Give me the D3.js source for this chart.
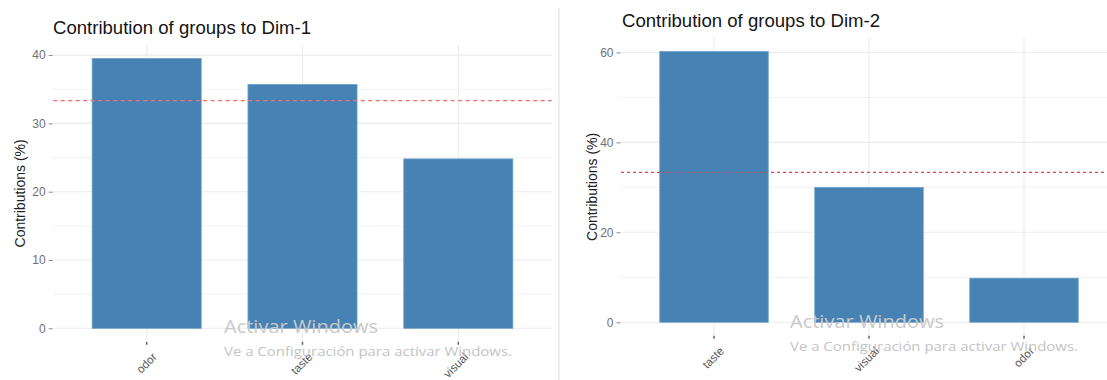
<!DOCTYPE html>
<html>
<head>
<meta charset="utf-8">
<script src="https://cdn.jsdelivr.net/npm/d3@7"></script>
<style>
  html, body { margin: 0; padding: 0; background: #fff; }
  svg { display: block; font-family: "Liberation Sans", Arial, sans-serif; }
</style>
</head>
<body>
<svg id="chart" width="1107" height="380"></svg>
<script>
// ---- data ----
const dim1Categories = ["odor", "taste", "visual"];
const dim1Values = [39.5, 35.7, 24.8];
const dim1Ticks = [0, 10, 20, 30, 40];
const dim1MinorTicks = [5, 15, 25, 35];
const dim1Title = "Contribution of groups to Dim-1";

const dim2Categories = ["taste", "visual", "odor"];
const dim2Values = [60.2, 30.0, 9.8];
const dim2Ticks = [0, 20, 40, 60];
const dim2MinorTicks = [10, 30, 50];
const dim2Title = "Contribution of groups to Dim-2";

const yAxisTitle = "Contributions (%)";
const expectedContribution = 100 / 3;
const watermarkLine1 = "Activar Windows";
const watermarkLine2 = "Ve a Configuración para activar Windows.";

const svg = d3.select("#chart");

function drawPanel(opt) {
  const g = svg.append("g");
  const ymax = d3.max(opt.values);
  const x = d3.scaleBand().domain(opt.categories)
    .range([opt.left, opt.right]).paddingInner(0.3).paddingOuter(0.25);
  const y = d3.scaleLinear().domain([-0.05 * ymax, 1.05 * ymax])
    .range([opt.bottom, opt.top]);

  // minor grid
  g.selectAll(".minor").data(opt.minor).join("line")
    .attr("x1", opt.left).attr("x2", opt.right)
    .attr("y1", d => y(d)).attr("y2", d => y(d))
    .attr("stroke", "#f2f2f2").attr("stroke-width", 1);
  // major grid
  g.selectAll(".major").data(opt.ticks).join("line")
    .attr("x1", opt.left).attr("x2", opt.right)
    .attr("y1", d => y(d)).attr("y2", d => y(d))
    .attr("stroke", "#ebebeb").attr("stroke-width", 1.1);
  g.selectAll(".vgrid").data(opt.categories).join("line")
    .attr("x1", d => x(d) + x.bandwidth() / 2).attr("x2", d => x(d) + x.bandwidth() / 2)
    .attr("y1", opt.top).attr("y2", opt.bottom)
    .attr("stroke", "#ebebeb").attr("stroke-width", 1.1);

  // bars
  g.selectAll(".bar").data(opt.categories).join("rect")
    .attr("x", d => x(d))
    .attr("width", x.bandwidth())
    .attr("y", (d, i) => y(opt.values[i]))
    .attr("height", (d, i) => y(0) - y(opt.values[i]))
    .attr("fill", "#4682b4")
    .attr("stroke", "#6f9fc8").attr("stroke-width", 0.8);

  // dashed expected line
  g.append("line")
    .attr("x1", opt.left).attr("x2", opt.right)
    .attr("y1", y(expectedContribution)).attr("y2", y(expectedContribution))
    .attr("stroke", opt.dashColor).attr("stroke-width", 1.4)
    .attr("stroke-dasharray", opt.dash);

  // y axis via d3
  const yAxis = d3.axisLeft(y).tickValues(opt.ticks).tickSize(4).tickPadding(3).tickFormat(d3.format("d"));
  const ya = g.append("g").attr("transform", `translate(${opt.left - 0.5},0)`).call(yAxis);
  ya.select(".domain").remove();
  ya.selectAll(".tick line").attr("stroke", "#888");
  ya.selectAll("text").attr("fill", "#707070").attr("font-size", 12)
    .attr("font-family", "Liberation Sans, Arial, sans-serif");

  // x axis via d3
  const xAxis = d3.axisBottom(x).tickSize(3).tickPadding(2);
  const xa = g.append("g").attr("transform", `translate(0,${opt.bottom})`).call(xAxis);
  xa.select(".domain").remove();
  xa.selectAll(".tick line").attr("stroke", "#666").attr("stroke-width", 1.5);
  xa.selectAll("text")
    .attr("fill", "#555").attr("font-size", 11.5)
    .attr("font-family", "Liberation Sans, Arial, sans-serif")
    .attr("text-anchor", "end")
    .attr("dy", null).attr("y", null)
    .attr("transform", "translate(8,13) rotate(-45)")
    .attr("dy", "0.35em");

  // y title
  g.append("text")
    .attr("transform", `translate(${opt.yTitleX},${(opt.top + opt.bottom) / 2}) rotate(-90)`)
    .attr("text-anchor", "middle")
    .attr("font-size", 14).attr("fill", "#222")
    .text(yAxisTitle);

  // title
  g.append("text")
    .attr("x", opt.titleX).attr("y", opt.titleY)
    .attr("font-size", 17.5).attr("fill", "#141414")
    .attr("textLength", 258).attr("lengthAdjust", "spacingAndGlyphs")
    .text(opt.title);
}

// divider between the two screenshots
svg.append("line").attr("x1", 559).attr("x2", 559).attr("y1", 8).attr("y2", 380)
  .attr("stroke", "#e2e2e2").attr("stroke-width", 1.2);

drawPanel({
  categories: dim1Categories, values: dim1Values, ticks: dim1Ticks, minor: dim1MinorTicks,
  title: dim1Title, left: 53.2, right: 551.8, top: 45, bottom: 341.8,
  titleX: 53, titleY: 34, yTitleX: 25,
  dashColor: "#f26d6d", dash: "4,3.5"
});

drawPanel({
  categories: dim2Categories, values: dim2Values, ticks: dim2Ticks, minor: dim2MinorTicks,
  title: dim2Title, left: 621, right: 1117, top: 38, bottom: 335.8,
  titleX: 622, titleY: 27, yTitleX: 597,
  dashColor: "#d24a4a", dash: "3,3"
});

// watermark text (present in the screenshot)
const wm = [
  { x: 224, y1: 333, y2: 356 },
  { x: 790, y1: 328, y2: 351 }
];
wm.forEach(w => {
  svg.append("text").attr("x", w.x).attr("y", w.y1)
    .attr("font-family", "Open Sans, Noto Sans, sans-serif")
    .attr("font-size", 18).attr("fill", "#c9c9c9")
    .attr("textLength", 154).attr("lengthAdjust", "spacingAndGlyphs")
    .text(watermarkLine1);
  svg.append("text").attr("x", w.x).attr("y", w.y2)
    .attr("font-family", "Open Sans, Noto Sans, sans-serif")
    .attr("font-size", 12.5).attr("fill", "#c4c4c4")
    .attr("textLength", 288).attr("lengthAdjust", "spacingAndGlyphs")
    .text(watermarkLine2);
});
</script>
</body>
</html>
